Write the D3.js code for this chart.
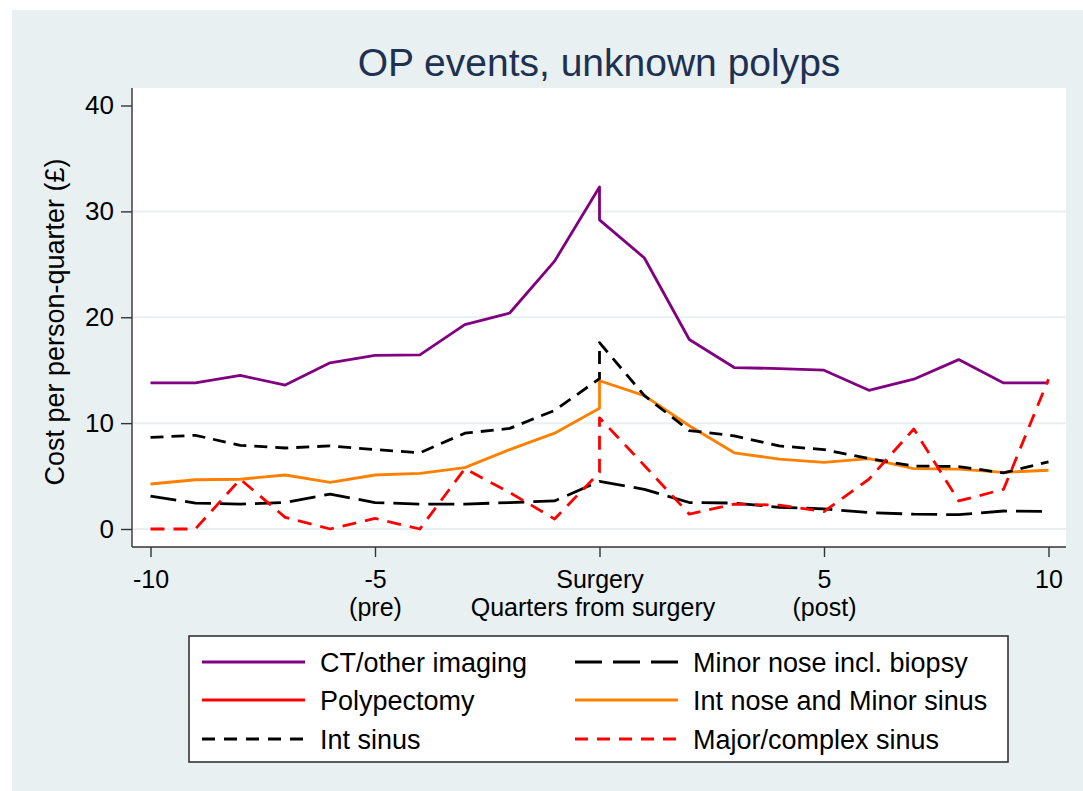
<!DOCTYPE html>
<meta charset="utf-8">
<style>
  body { margin: 0; background: #fff; }
  text { font-family: "Liberation Sans", Arial, sans-serif; fill: #000; }
</style>
<body>
<script src="https://d3js.org/d3.v7.min.js"></script>
<script>
    // quarters from surgery; surgery (0) appears twice: before and after the operation
    const quarters = [-10, -9, -8, -7, -6, -5, -4, -3, -2, -1, 0, 0, 1, 2, 3, 4, 5, 6, 7, 8, 9, 10];

    // cost per person-quarter (GBP)
    const ctImaging   = [13.8, 13.8, 14.5, 13.6, 15.7, 16.4, 16.45, 19.3, 20.4, 25.3, 32.3, 29.2, 25.6, 17.9, 15.25, 15.15, 15.0, 13.1, 14.15, 16.0, 13.8, 13.8];
    const minorNose   = [3.1, 2.45, 2.35, 2.5, 3.3, 2.5, 2.35, 2.35, 2.5, 2.65, 4.5, 4.5, 3.75, 2.5, 2.45, 2.05, 1.9, 1.55, 1.4, 1.35, 1.7, 1.65];
    const polypectomy = quarters.map(() => null); // no values drawn in the chart
    const intNose     = [4.25, 4.65, 4.7, 5.1, 4.4, 5.1, 5.25, 5.8, 7.5, 9.05, 11.4, 14.0, 12.6, 9.75, 7.2, 6.6, 6.3, 6.65, 5.7, 5.65, 5.35, 5.55];
    const intSinus    = [8.65, 8.85, 7.9, 7.65, 7.85, 7.5, 7.2, 9.05, 9.5, 11.2, 14.2, 17.6, 12.6, 9.3, 8.8, 7.85, 7.5, 6.65, 5.95, 5.9, 5.3, 6.35];
    const majorSinus  = [0, 0, 4.7, 1.1, 0, 1.0, 0, 5.7, 3.45, 0.95, 5.35, 10.5, 6.0, 1.4, 2.35, 2.25, 1.65, 4.7, 9.45, 2.65, 3.75, 14.15];

    const seriesNames = ["CT/other imaging", "Minor nose incl. biopsy", "Polypectomy",
                         "Int nose and Minor sinus", "Int sinus", "Major/complex sinus"];
    const seriesValues = [ctImaging, minorNose, polypectomy, intNose, intSinus, majorSinus];

    const xTickValues = [-10, -5, 0, 5, 10];
    const xTickLabels = ["-10", "-5", "Surgery", "5", "10"];
    const xTickSubLabels = ["", "(pre)", "", "(post)", ""];
    const yTickValues = [0, 10, 20, 30, 40];
    const yGridValues = [0, 10, 20, 30];

    // line styles, same order as the series
    const styles = [
        {color: "#800080", dash: null,    legendDash: null},
        {color: "#000000", dash: "26 9",  legendDash: "27 11"},
        {color: "#ff0000", dash: null,    legendDash: null},
        {color: "#ff8000", dash: null,    legendDash: null},
        {color: "#000000", dash: "13 8",  legendDash: "13 9"},
        {color: "#ff0000", dash: "14 9",  legendDash: "13 9"}
    ];

    const W = 1083, H = 791;
    const plot = {left: 132, right: 1066, top: 88, bottom: 547};

    const svg = d3.select("body").append("svg")
        .attr("width", W)
        .attr("height", H);

    // outer graph region
    svg.append("rect")
        .attr("x", 12).attr("y", 10)
        .attr("width", W - 12).attr("height", H - 10)
        .attr("fill", "#e8f0f2");

    // plot region
    svg.append("rect")
        .attr("x", plot.left).attr("y", plot.top)
        .attr("width", plot.right - plot.left).attr("height", plot.bottom - plot.top)
        .attr("fill", "#fff");

    const x = d3.scaleLinear().domain([-10, 10]).range([150.5, 1048.5]);
    const y = d3.scaleLinear().domain([0, 40]).range([529, 105.5]);

    // gridlines
    svg.append("g")
        .selectAll("line")
        .data(yGridValues)
        .enter().append("line")
        .attr("x1", plot.left).attr("x2", plot.right)
        .attr("y1", d => y(d)).attr("y2", d => y(d))
        .attr("stroke", "#e8f0f2")
        .attr("stroke-width", 2);

    // series
    const line = d3.line()
        .defined(d => d.v != null)
        .x(d => x(d.q))
        .y(d => y(d.v));

    seriesValues.forEach((vals, i) => {
        const pts = quarters.map((q, j) => ({q: q, v: vals[j]}));
        svg.append("path")
            .datum(pts)
            .attr("d", line)
            .attr("fill", "none")
            .attr("stroke", styles[i].color)
            .attr("stroke-width", 2.8)
            .attr("stroke-dasharray", styles[i].dash)
            .attr("stroke-linejoin", "round");
    });

    // y axis
    const yAxis = svg.append("g")
        .attr("transform", "translate(" + plot.left + ",0)")
        .call(d3.axisLeft(y).tickValues(yTickValues).tickSize(11).tickPadding(7));
    yAxis.select(".domain").attr("d", "M0," + plot.top + "V" + plot.bottom);
    yAxis.selectAll(".tick text").attr("font-size", 26);

    // x axis, tick labels may have a second line
    const xAxis = svg.append("g")
        .attr("transform", "translate(0," + plot.bottom + ")")
        .call(d3.axisBottom(x).tickValues(xTickValues).tickSize(10).tickFormat(""));
    xAxis.select(".domain").attr("d", "M" + plot.left + ",0H" + plot.right);
    xAxis.selectAll(".tick text")
        .attr("y", 41).attr("dy", null)
        .attr("font-size", 25)
        .each(function(d, i) {
            const t = d3.select(this);
            t.append("tspan").attr("x", 0).attr("y", 41).text(xTickLabels[i]);
            if (xTickSubLabels[i]) {
                t.append("tspan").attr("x", 0).attr("y", 69).text(xTickSubLabels[i]);
            }
        });

    svg.selectAll(".domain, .tick line")
        .attr("stroke", "#333")
        .attr("stroke-width", 1.4);
    svg.selectAll(".tick text")
        .attr("font-family", "Liberation Sans, Arial, sans-serif")
        .attr("fill", "#000");

    // axis titles
    svg.append("text")
        .attr("x", (plot.left + plot.right) / 2 - 6)
        .attr("y", 616)
        .attr("text-anchor", "middle")
        .attr("font-size", 25)
        .text("Quarters from surgery");

    svg.append("text")
        .attr("transform", "translate(64,322) rotate(-90)")
        .attr("text-anchor", "middle")
        .attr("font-size", 27)
        .text("Cost per person-quarter (£)");

    // title
    svg.append("text")
        .attr("x", 599)
        .attr("y", 76)
        .attr("text-anchor", "middle")
        .attr("font-size", 39)
        .style("fill", "#1e3150")
        .text("OP events, unknown polyps");

    // legend
    const legend = svg.append("g");
    legend.append("rect")
        .attr("x", 189).attr("y", 636)
        .attr("width", 819).attr("height", 126)
        .attr("fill", "#fff")
        .attr("stroke", "#333")
        .attr("stroke-width", 1.6);

    const colX = [202, 575];
    const rowY = [662, 700, 739];
    seriesNames.forEach((name, i) => {
        const cx = colX[i % 2], cy = rowY[Math.floor(i / 2)];
        legend.append("line")
            .attr("x1", cx).attr("x2", cx + 103)
            .attr("y1", cy).attr("y2", cy)
            .attr("stroke", styles[i].color)
            .attr("stroke-width", 2.8)
            .attr("stroke-dasharray", styles[i].legendDash);
        legend.append("text")
            .attr("x", cx + 118)
            .attr("y", cy + 10)
            .attr("font-size", 27)
            .text(name);
    });
</script>
</body>
